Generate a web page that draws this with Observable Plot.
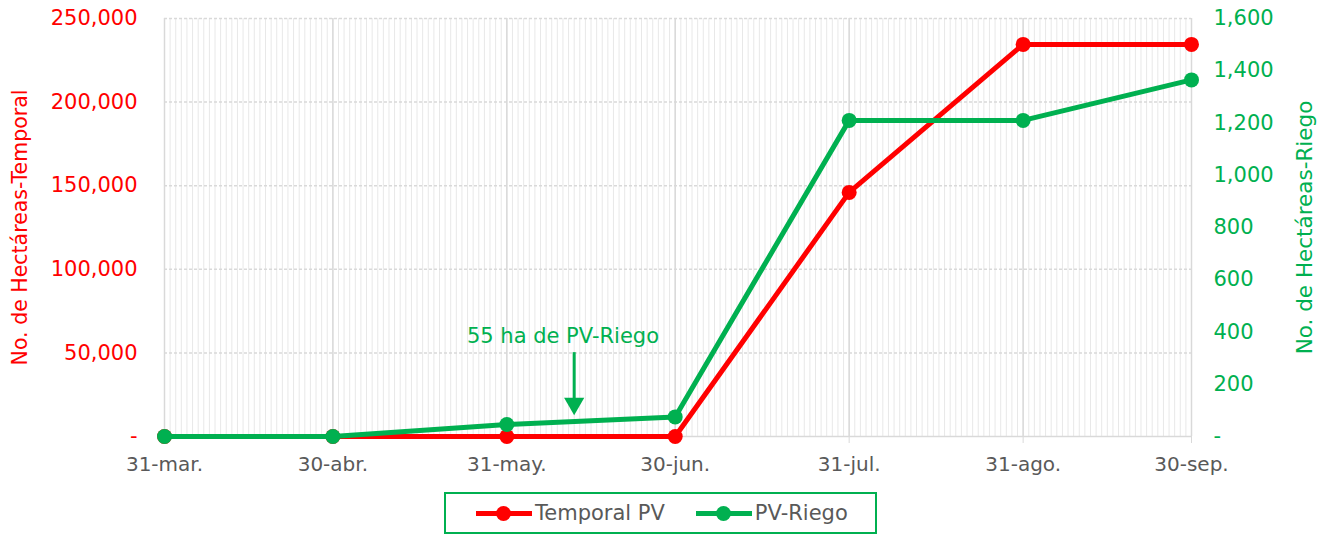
<!DOCTYPE html>
<html><head><meta charset="utf-8">
<script src="https://cdn.jsdelivr.net/npm/d3@7"></script>
<script src="https://cdn.jsdelivr.net/npm/@observablehq/plot@0.6"></script>
<style>
body{margin:0;background:#fff;font-family:"DejaVu Sans",sans-serif;}
#legend{margin-left:444px;margin-top:7px;width:429px;height:38px;border:2px solid #00B050;display:flex;align-items:center;font-size:21px;color:#595959;}
.item{display:flex;align-items:center;}
.sw{position:relative;width:56px;height:5px;margin-right:3px;}
.sw span{position:absolute;left:20px;top:-5px;width:15px;height:15px;border-radius:50%;}
</style></head><body>
<div id="chart"></div>
<div id="legend"></div>
<script>
const dates = ["2023-03-31","2023-04-30","2023-05-31","2023-06-30","2023-07-31","2023-08-31","2023-09-30"];
const xTickLabels = ["31-mar.","30-abr.","31-may.","30-jun.","31-jul.","31-ago.","30-sep."];
const temporal = [0,0,0,0,146000,234500,234500];
const riego = [0,0,46,75,1210,1210,1365];
const leftTicks = [0,50000,100000,150000,200000,250000];
const rightTicks = [0,200,400,600,800,1000,1200,1400,1600];
const seriesNames = ["Temporal PV","PV-Riego"];
const colors = ["#FF0000","#00B050"];
const annotationText = "55 ha de PV-Riego";
const annotationDate = "2023-06-10";
const annotationArrowDate = "2023-06-12";
const annotationTextValue = 382;   // right-axis units
const annotationArrowTop = 321;
const annotationArrowHead = 126;

const LMAX = 250000, RMAX = 1600;
const toLeft = v => v * LMAX / RMAX;
const pd = d3.utcParse("%Y-%m-%d");
const X = dates.map(pd);
const tData = X.map((d,i)=>({x:d,y:temporal[i]}));
const rData = X.map((d,i)=>({x:d,y:toLeft(riego[i])}));
const days = d3.utcDay.range(X[0], d3.utcDay.offset(X[X.length-1],1));
const fmtL = d => d===0 ? "-" : d3.format(",")(d);
const fmtR = d => d===0 ? "-" : d3.format(",")(Math.round(d*RMAX/LMAX));
const font = "DejaVu Sans";

const chart = Plot.plot({
  width: 1324, height: 485,
  marginLeft: 164, marginRight: 133, marginTop: 18, marginBottom: 49,
  style: {fontFamily: font, background: "#fff"},
  x: {type: "utc", domain: [X[0], X[X.length-1]]},
  y: {domain: [0, LMAX]},
  marks: [
    Plot.ruleX(days, {stroke: "#e8e8e8", strokeWidth: 1}),
    Plot.ruleX(X, {stroke: "#d9d9d9", strokeWidth: 1.5}),
    Plot.ruleY(leftTicks.slice(1), {stroke: "#d9d9d9", strokeWidth: 1.5, strokeDasharray: "3,2"}),
    Plot.ruleY([0], {stroke: "#d9d9d9", strokeWidth: 1.5}),
    Plot.axisX({ticks: X, tickFormat: (d,i)=>xTickLabels[i], tickSize: 7, stroke: "#d9d9d9", tickPadding: 13, fontSize: 20, fill: "#595959", label: null}),
    Plot.axisY({ticks: leftTicks, tickFormat: fmtL, tickSize: 0, tickPadding: 27, fontSize: 21, fill: "#FF0000", label: null}),
    Plot.axisY({anchor: "right", ticks: rightTicks.map(toLeft), tickFormat: fmtR, tickSize: 0, tickPadding: 22, fontSize: 21, fill: "#00B050", label: null}),
    Plot.text(["No. de Hectáreas-Temporal"], {frameAnchor: "left", dx: -144, rotate: -90, textAnchor: "middle", fill: "#FF0000", fontSize: 20.5}),
    Plot.text(["No. de Hectáreas-Riego"], {frameAnchor: "right", dx: 114, rotate: -90, textAnchor: "middle", fill: "#00B050", fontSize: 21.5}),
    Plot.line(tData, {x: "x", y: "y", stroke: colors[0], strokeWidth: 5}),
    Plot.dot(tData, {x: "x", y: "y", fill: colors[0], r: 7.5}),
    Plot.line(rData, {x: "x", y: "y", stroke: colors[1], strokeWidth: 5}),
    Plot.dot(rData, {x: "x", y: "y", fill: colors[1], r: 7.5}),
    Plot.text([annotationText], {x: pd(annotationDate), y: toLeft(annotationTextValue), fill: colors[1], fontSize: 21}),
    Plot.ruleX([pd(annotationArrowDate)], {y1: toLeft(annotationArrowTop), y2: toLeft(annotationArrowHead+14), stroke: colors[1], strokeWidth: 3}),
    Plot.dot([pd(annotationArrowDate)], {x: d=>d, y: toLeft(annotationArrowHead), symbol: "triangle", rotate: 180, r: 7.5, fill: colors[1]})
  ]
});
document.getElementById("chart").append(chart);

const lg = document.getElementById("legend");
seriesNames.forEach((n,i)=>{
  const it = document.createElement("div"); it.className="item";
  it.style.marginLeft = (i===0?30:31)+"px";
  it.innerHTML = `<div class="sw" style="background:${colors[i]}"><span style="background:${colors[i]}"></span></div><span>${n}</span>`;
  lg.append(it);
});
</script>
</body></html>
